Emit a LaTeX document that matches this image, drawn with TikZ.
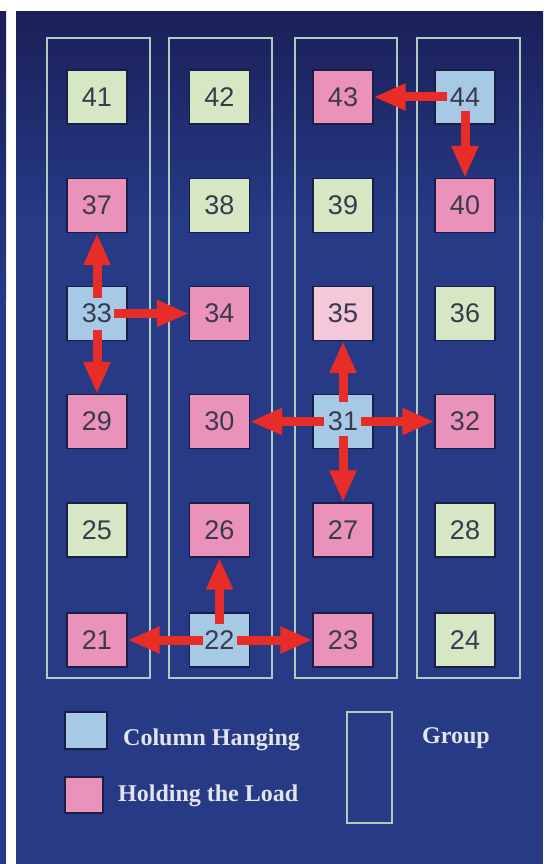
\documentclass[tikz,border=0pt]{standalone}
\usepackage{fontspec}
\setmainfont{Liberation Serif}
\newfontfamily\numfont{Liberation Sans}
\usetikzlibrary{arrows.meta}
\definecolor{panelTop}{RGB}{27,31,88}
\definecolor{panelMid}{RGB}{38,58,134}
\definecolor{boxgreen}{RGB}{214,231,196}
\definecolor{boxpink}{RGB}{234,146,186}
\definecolor{boxblue}{RGB}{166,202,230}
\definecolor{boxlight}{RGB}{244,200,216}
\definecolor{numtext}{RGB}{58,58,78}
\definecolor{groupline}{RGB}{172,204,190}
\definecolor{arrowred}{RGB}{232,44,40}
\definecolor{boxedge}{RGB}{25,30,70}
\definecolor{legendtext}{RGB}{228,228,236}
\begin{document}
\begin{tikzpicture}[x=1pt,y=-1pt,
  cell/.style={draw=boxedge,line width=1.2pt,minimum width=60pt,minimum height=54pt,inner sep=0pt,
    font=\numfont\fontsize{27}{27}\selectfont,text=numtext},
  cg/.style={cell,fill=boxgreen},
  cp/.style={cell,fill=boxpink},
  cb/.style={cell,fill=boxblue},
  cl/.style={cell,fill=boxlight},
  grp/.style={draw=groupline,line width=1.8pt},
  arr/.style={draw=arrowred,line width=9pt,-{Triangle[length=32pt,width=25pt]}},
  legbox/.style={draw=boxedge,line width=1.2pt,inner sep=0pt},
  legtext/.style={text=legendtext,font=\fontsize{24}{24}\selectfont\bfseries,inner sep=0pt,anchor=base west}
]
\useasboundingbox (0,0) rectangle (551,864);
\fill[white] (0,0) rectangle (551,864);
% left strip (fragment of neighbouring picture)
\shade[top color=panelTop,bottom color=panelMid] (0,12) rectangle (6,300);
\fill[panelMid] (0,300) rectangle (6,864);
% main panel
\shade[top color=panelTop,bottom color=panelMid] (16,12) rectangle (543,220);
\fill[panelMid] (16,220) rectangle (543,864);
% groups
\draw[grp] (47,38) rectangle (150,678);
\draw[grp] (169,38) rectangle (272,678);
\draw[grp] (295,38) rectangle (397,678);
\draw[grp] (417,38) rectangle (520,678);
% cells
\def\ca{97}\def\cb{219.5}\def\cc{343}\def\cd{465}
\def\ra{97}\def\rb{205.5}\def\rc{313.5}\def\rd{421.5}\def\re{530}\def\rf{640}
\node[cg] (n41) at (\ca,\ra) {41};
\node[cg] (n42) at (\cb,\ra) {42};
\node[cp] (n43) at (\cc,\ra) {43};
\node[cb] (n44) at (\cd,\ra) {44};
\node[cp] (n37) at (\ca,\rb) {37};
\node[cg] (n38) at (\cb,\rb) {38};
\node[cg] (n39) at (\cc,\rb) {39};
\node[cp] (n40) at (\cd,\rb) {40};
\node[cb] (n33) at (\ca,\rc) {33};
\node[cp] (n34) at (\cb,\rc) {34};
\node[cl] (n35) at (\cc,\rc) {35};
\node[cg] (n36) at (\cd,\rc) {36};
\node[cp] (n29) at (\ca,\rd) {29};
\node[cp] (n30) at (\cb,\rd) {30};
\node[cb] (n31) at (\cc,\rd) {31};
\node[cp] (n32) at (\cd,\rd) {32};
\node[cg] (n25) at (\ca,\re) {25};
\node[cp] (n26) at (\cb,\re) {26};
\node[cp] (n27) at (\cc,\re) {27};
\node[cg] (n28) at (\cd,\re) {28};
\node[cp] (n21) at (\ca,\rf) {21};
\node[cb] (n22) at (\cb,\rf) {22};
\node[cp] (n23) at (\cc,\rf) {23};
\node[cg] (n24) at (\cd,\rf) {24};
% arrows
\draw[arr] ([yshift=16pt]n33.center) -- (n37.south);
\draw[arr] ([xshift=17pt]n33.center) -- (n34.west);
\draw[arr] ([yshift=-16pt]n33.center) -- (n29.north);
\draw[arr] ([xshift=-18pt]n44.center) -- (n43.east);
\draw[arr] ([yshift=-14pt]n44.center) -- (n40.north);
\draw[arr] ([yshift=20pt]n31.center) -- (n35.south);
\draw[arr] ([xshift=-19pt]n31.center) -- (n30.east);
\draw[arr] ([xshift=18pt]n31.center) -- (n32.west);
\draw[arr] ([yshift=-14pt]n31.center) -- (n27.north);
\draw[arr] ([yshift=16pt]n22.center) -- (n26.south);
\draw[arr] ([xshift=-17pt]n22.center) -- (n21.east);
\draw[arr] ([xshift=17pt]n22.center) -- (n23.west);
% legend
\node[legbox,fill=boxblue,minimum width=42pt,minimum height=37pt] (lgb) at (86,730.5) {};
\node[legbox,fill=boxpink,minimum width=38pt,minimum height=36pt] (lgp) at (84,795) {};
\node[legtext] (ltb) at (123,745) {Column Hanging};
\node[legtext] (ltp) at (118,801) {Holding the Load};
\draw[grp] (347,712) rectangle (392,823);
\node[legtext] (ltg) at (422,743) {Group};
\end{tikzpicture}
\end{document}
